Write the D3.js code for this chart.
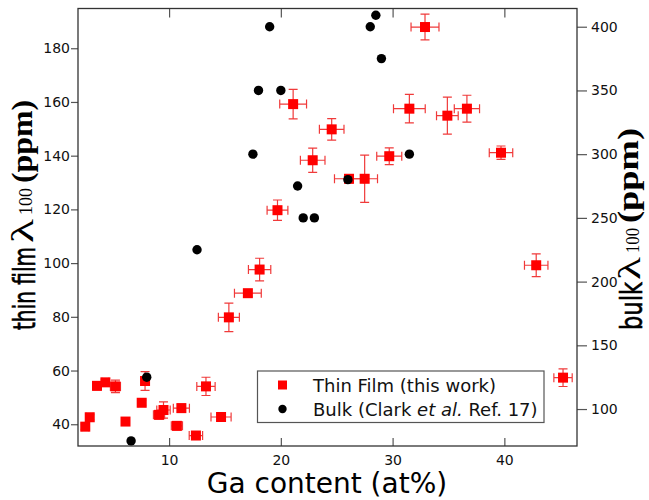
<!DOCTYPE html>
<html>
<head>
<meta charset="utf-8">
<script src="https://cdn.jsdelivr.net/npm/d3@7"></script>
<style>
    body { margin: 0; background: #fff; }
    svg { display: block; }
    .tick text { font-family: "DejaVu Sans", sans-serif; font-size: 14px; fill: #111; }
    .tick line { stroke: #555; stroke-width: 1.2; }
</style>
</head>
<body>
<svg></svg>
<script>
// thin film points (this work): Ga content, lambda100, and their error bars
const filmGa = [2.5, 2.9, 3.55, 4.3, 5.2, 6.1, 7.55, 7.85, 9.1, 9.5, 10.7, 11.1, 12.4, 13.3, 14.65, 15.35,
    17.05, 18.1, 19.7, 21.1, 22.85, 24.55, 26.1, 27.5, 29.7, 31.5, 32.9, 34.9, 36.65, 39.7, 42.85, 45.25];
const filmLambda = [39.1, 42.6, 54.3, 55.6, 54.1, 41.0, 48.0, 56.1, 43.5, 45.3, 39.4, 46.0, 35.8, 54.1, 42.7, 79.8,
    88.8, 97.6, 119.7, 159.2, 138.3, 149.8, 131.4, 131.4, 139.8, 157.5, 187.9, 154.9, 157.5, 141.1, 99.2, 57.35];
const filmGaErr = [0.3, 0.3, 0.3, 0.3, 0.45, 0.3, 0.3, 0.35, 0.5, 0.6, 0.5, 0.72, 0.6, 0.82, 0.9, 0.94,
    1.2, 1.0, 0.93, 1.2, 1.1, 1.1, 1.3, 1.15, 1.12, 1.42, 1.25, 0.97, 1.13, 1.05, 1.05, 0.82];
const filmLambdaErr = [1, 1, 1.5, 1, 2.3, 1, 1, 3.5, 1.5, 3, 1.5, 1.5, 1, 3.4, 1, 5.3,
    1.2, 4.2, 3.8, 5.5, 4.5, 4, 1.5, 8.8, 3.1, 5.3, 4.8, 6.9, 5, 2.5, 4.2, 3.3];

// bulk points (Clark et al.), right axis
const bulkGa = [6.6, 8.0, 12.5, 17.5, 18.0, 19.0, 20.0, 21.5, 22.0, 23.0, 26.0, 28.0, 28.5, 29.0, 31.5];
const bulkLambda = [75, 125, 225, 300, 350, 400, 350, 275, 250, 250, 280, 400, 409, 375, 300];

const xTicks = [10, 20, 30, 40];
const leftTicks = [40, 60, 80, 100, 120, 140, 160, 180];
const rightTicks = [100, 150, 200, 250, 300, 350, 400];

const W = 649, H = 500;
const plot = {left: 78, right: 577, top: 8.5, bottom: 446};
const red = "#ff0000";
const errRed = "#f03a3a";

const svg = d3.select("svg").attr("width", W).attr("height", H);

const x = d3.scaleLinear().domain([1.85, 46.5]).range([plot.left, plot.right]);
const yL = d3.scaleLinear().domain([31.9, 194.8]).range([plot.bottom, plot.top]);
const yR = d3.scaleLinear().domain([71, 414.3]).range([plot.bottom, plot.top]);

// axes
svg.append("g")
    .attr("transform", `translate(0,${plot.bottom})`)
    .call(d3.axisBottom(x).tickValues(xTicks).tickSizeInner(-8).tickSizeOuter(0).tickPadding(9));
svg.append("g")
    .attr("transform", `translate(0,${plot.top})`)
    .call(d3.axisTop(x).tickValues(xTicks).tickSizeInner(-9).tickSizeOuter(0).tickFormat(() => ""));
svg.append("g")
    .attr("transform", `translate(${plot.left},0)`)
    .call(d3.axisLeft(yL).tickValues(leftTicks).tickSizeInner(7).tickSizeOuter(0).tickPadding(1));
svg.append("g")
    .attr("transform", `translate(${plot.right},0)`)
    .call(d3.axisRight(yR).tickValues(rightTicks).tickSizeInner(10).tickSizeOuter(0).tickPadding(4));
svg.selectAll(".domain").remove();

svg.append("rect")
    .attr("x", plot.left).attr("y", plot.top)
    .attr("width", plot.right - plot.left).attr("height", plot.bottom - plot.top)
    .attr("fill", "none").attr("stroke", "#333").attr("stroke-width", 1.3);

// error bars
const film = filmGa.map((g, i) => ({g, l: filmLambda[i], ge: filmGaErr[i], le: filmLambdaErr[i]}));
const cap = 4.5;
const eb = svg.append("g").attr("stroke", errRed).attr("stroke-width", 1.2).attr("fill", "none");
film.forEach(d => {
    const cx = x(d.g), cy = yL(d.l);
    const x0 = x(d.g - d.ge), x1 = x(d.g + d.ge);
    const y0 = yL(d.l - d.le), y1 = yL(d.l + d.le);
    eb.append("path").attr("d",
        `M${x0},${cy}H${x1}M${x0},${cy - cap}V${cy + cap}M${x1},${cy - cap}V${cy + cap}` +
        `M${cx},${y0}V${y1}M${cx - cap},${y0}H${cx + cap}M${cx - cap},${y1}H${cx + cap}`);
});

// thin film squares
const sq = 10;
svg.append("g").selectAll("rect").data(film).join("rect")
    .attr("x", d => x(d.g) - sq / 2)
    .attr("y", d => yL(d.l) - sq / 2)
    .attr("width", sq).attr("height", sq)
    .attr("fill", red);

// bulk circles
svg.append("g").selectAll("circle").data(bulkGa).join("circle")
    .attr("cx", d => x(d))
    .attr("cy", (d, i) => yR(bulkLambda[i]))
    .attr("r", 4.7)
    .attr("fill", "#000");

// legend
const leg = svg.append("g");
leg.append("rect").attr("x", 257.5).attr("y", 371).attr("width", 286.5).attr("height", 51.5)
    .attr("fill", "#fff").attr("stroke", "#555").attr("stroke-width", 1.2);
leg.append("rect").attr("x", 278).attr("y", 380.5).attr("width", 9).attr("height", 9).attr("fill", red);
leg.append("circle").attr("cx", 282.5).attr("cy", 409).attr("r", 4.2).attr("fill", "#000");
const legText = leg.append("g")
    .style("font-family", '"DejaVu Sans", sans-serif').style("font-size", "18px").attr("fill", "#111");
legText.append("text").attr("x", 313).attr("y", 391.5).text("Thin Film (this work)");
const t2 = legText.append("text").attr("x", 313).attr("y", 415.5);
t2.append("tspan").text("Bulk (Clark ");
t2.append("tspan").style("font-style", "italic").text("et al.");
t2.append("tspan").text(" Ref. 17)");

// x label
svg.append("text")
    .attr("x", 327).attr("y", 493)
    .attr("text-anchor", "middle")
    .style("font-family", '"DejaVu Sans", sans-serif').style("font-size", "28px").attr("fill", "#000")
    .text("Ga content (at%)");

// rotated labels built from pieces so each piece can be squeezed to its measured length
const sans = '"DejaVu Sans", sans-serif';
const serif = '"Liberation Serif", "DejaVu Serif", serif';
function rotLabel(bx, by, parts) {
    const g = svg.append("g").attr("transform", `translate(${bx},${by}) rotate(-90)`);
    parts.forEach(p => {
        g.append("text")
            .attr("x", p.at).attr("y", p.dy || 0)
            .attr("textLength", p.len).attr("lengthAdjust", "spacingAndGlyphs")
            .style("font-family", p.font).style("font-size", p.size + "px")
            .style("font-weight", p.bold ? "bold" : "normal")
            .attr("fill", "#000")
            .attr("stroke", p.font === sans ? "#000" : "none")
            .attr("stroke-width", 0.6)
            .text(p.t);
    });
}
rotLabel(35, 330, [
    {t: "thin film", at: 0, len: 83, font: sans, size: 30},
    {t: "λ", at: 87, len: 24, font: serif, size: 31, dy: -2},
    {t: "100", at: 115, len: 27, font: serif, size: 18, dy: -3},
    {t: "(ppm)", at: 147, len: 83, font: serif, size: 29, bold: true, dy: -3}
]);
rotLabel(642, 330, [
    {t: "bulk", at: 0, len: 48, font: sans, size: 30},
    {t: "λ", at: 50, len: 23, font: serif, size: 31, dy: -2},
    {t: "100", at: 77, len: 25, font: serif, size: 18, dy: -3},
    {t: "(ppm)", at: 107, len: 95, font: serif, size: 29, bold: true, dy: -4}
]);
</script>
</body>
</html>
